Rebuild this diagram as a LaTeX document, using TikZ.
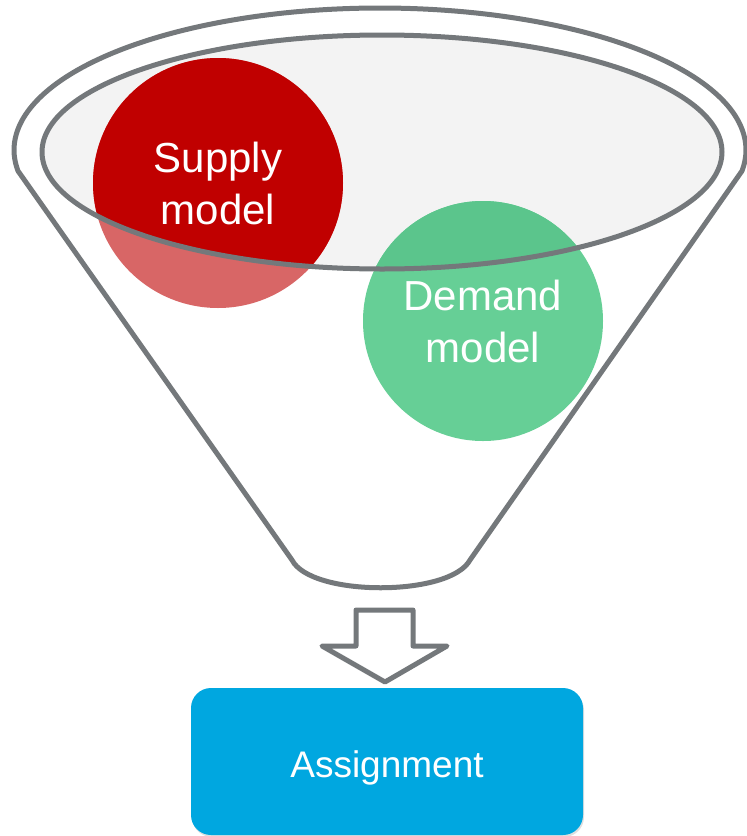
\documentclass[tikz,border=0pt]{standalone}
\usepackage{fontspec}
\setmainfont{Liberation Sans}
\usetikzlibrary{shadows}
\definecolor{rim}{HTML}{74787B}
\definecolor{mouth}{HTML}{F3F3F3}
\definecolor{supplyDark}{HTML}{C00000}
\definecolor{supplyLight}{HTML}{D86666}
\definecolor{demandDark}{HTML}{5BC58C}
\definecolor{demandLight}{HTML}{66CF96}
\definecolor{assignBlue}{HTML}{00A7E0}
\tikzset{
  rimline/.style={draw=rim, line width=5pt, line join=round},
  bubble/.style={circle, inner sep=0pt, draw=none},
  bubbletext/.style={text=white, align=center, font=\fontsize{42}{52}\selectfont},
  resultbox/.style={rounded corners=20pt, fill=assignBlue, drop shadow={opacity=0.25, shadow xshift=1pt, shadow yshift=-2pt}},
  resulttext/.style={text=white, font=\fontsize{37}{44}\selectfont, anchor=base},
}
\begin{document}
\begin{tikzpicture}[x=1pt, y=-1pt]
  \useasboundingbox (0,0) rectangle (747,836);

  % funnel body: upper rim arc, two sides and rounded spout
  \draw[rimline, fill=white]
    plot[domain=171.5:368.5, samples=120, smooth] ({380+366*cos(\x)},{150+142*sin(\x)})
    -- (470,560) .. controls (450,597) and (311,597) .. (292,560) -- cycle;

  % mouth of the funnel
  \fill[mouth] (382,152) ellipse [x radius=340, y radius=117];

  % the two model bubbles (light colour where they hang below the mouth)
  \node[bubble, minimum size=250pt, fill=supplyLight] (supply) at (218,183) {};
  \node[bubble, minimum size=240pt, fill=demandLight] (demand) at (483,321) {};
  \begin{scope}
    \clip (382,152) ellipse [x radius=340, y radius=117];
    \fill[supplyDark] (supply.center) circle [radius=125];
    \fill[demandDark] (demand.center) circle [radius=120];
  \end{scope}

  % rim of the mouth
  \draw[rimline] (382,152) ellipse [x radius=340, y radius=117];

  \node[bubbletext] (supplylabel) at (supply.center) {Supply\\model};
  \node[bubbletext] (demandlabel) at (demand.center) {Demand\\model};

  % block arrow down to the result
  \draw[rimline, fill=white]
    (356,610) -- (413,610) -- (413,646) -- (447,646) -- (385,682)
    -- (322,646) -- (356,646) -- cycle;

  \node[resultbox, minimum width=392pt, minimum height=147pt] (assign) at (387,761.5) {};
  \node[resulttext] (assignlabel) at (387,777) {Assignment};
\end{tikzpicture}
\end{document}
